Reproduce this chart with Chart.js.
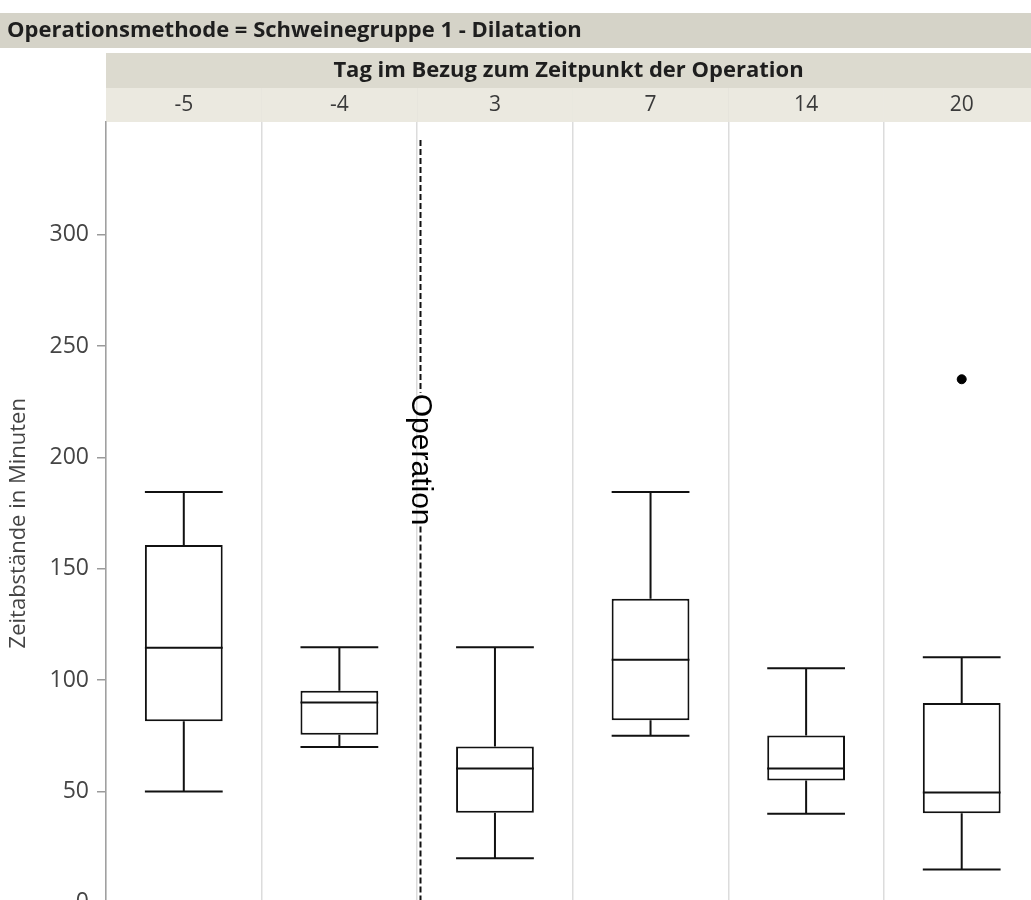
<!DOCTYPE html>
<html>
<head>
<meta charset="utf-8">
<script src="https://cdn.jsdelivr.net/npm/chart.js@4"></script>
<style>
  html, body { margin: 0; padding: 0; background: #fff; overflow: hidden; }
</style>
</head>
<body>
<canvas id="box-chart" width="1045" height="930"></canvas>
<script>
// days relative to the operation
const days = ['-5', '-4', '3', '7', '14', '20'];
// box plot values per day (minutes)
const whiskerLow  = [50, 70, 20, 75, 40, 15];
const quartile1   = [81.5, 75.5, 40.5, 82, 55, 40.3];
const medians     = [114.5, 90, 60.3, 109.2, 60.3, 49.6];
const quartile3   = [160.7, 95.3, 70.2, 136.5, 75.2, 89.8];
const whiskerHigh = [184.5, 114.8, 114.8, 184.5, 105.3, 110.3];
const outliers    = [null, null, null, null, null, 235.1];
const yTicks = [0, 50, 100, 150, 200, 250, 300];

const groupTitle = 'Operationsmethode = Schweinegruppe 1 - Dilatation';
const xTitle = 'Tag im Bezug zum Zeitpunkt der Operation';
const yTitle = 'Zeitabstände in Minuten';
const operationLabel = 'Operation';
// the operation happens between day -4 and day 3 (category index ~1.5)
const operationAt = 1.52;

const uiFont = '"Open Sans", "Noto Sans", sans-serif';

// header bands above the plot: group strip, x title strip, one cell per day
const headerPlugin = {
    id: 'headers',
    beforeDraw(chart) {
        const ctx = chart.ctx;
        const area = chart.chartArea;
        const x = chart.scales.x;
        ctx.save();
        // group strip
        ctx.fillStyle = '#d5d3c8';
        ctx.fillRect(0, 13, chart.width, 35);
        ctx.fillStyle = '#1e1e1e';
        ctx.font = 'bold 22px ' + uiFont;
        ctx.textBaseline = 'middle';
        ctx.textAlign = 'left';
        ctx.fillText(groupTitle, 7, 31);
        // x title strip
        ctx.fillStyle = '#dcdacf';
        ctx.fillRect(area.left, 53, area.right - area.left, 35);
        ctx.fillStyle = '#1e1e1e';
        ctx.textAlign = 'center';
        ctx.fillText(xTitle, (area.left + 1031) / 2, 71);
        // day cells
        ctx.font = '21px ' + uiFont;
        days.forEach((d, i) => {
            const l = x.getPixelForValue(i - 0.5);
            const r = x.getPixelForValue(i + 0.5);
            ctx.fillStyle = '#ebe9e0';
            ctx.fillRect(l, 88, r - l, 34);
            ctx.strokeStyle = '#d2d0c6';
            ctx.lineWidth = 1;
            ctx.beginPath();
            ctx.moveTo(r + 0.5, 88);
            ctx.lineTo(r + 0.5, 122);
            ctx.stroke();
            ctx.fillStyle = '#3a3a3a';
            ctx.fillText(d, (l + r) / 2, 105);
        });
        ctx.restore();
    }
};

// whiskers, caps, medians and the operation marker
const boxPlugin = {
    id: 'boxes',
    afterDatasetsDraw(chart) {
        const ctx = chart.ctx;
        const y = chart.scales.y;
        const x = chart.scales.x;
        const bars = chart.getDatasetMeta(0).data;
        ctx.save();
        ctx.strokeStyle = '#111';
        ctx.lineWidth = 2;
        bars.forEach((bar, i) => {
            const cx = bar.x;
            const half = bar.width / 2;
            const yLow = y.getPixelForValue(whiskerLow[i]);
            const yHigh = y.getPixelForValue(whiskerHigh[i]);
            const yQ1 = y.getPixelForValue(quartile1[i]);
            const yQ3 = y.getPixelForValue(quartile3[i]);
            const yMed = y.getPixelForValue(medians[i]);
            ctx.beginPath();
            ctx.moveTo(cx, yLow); ctx.lineTo(cx, yQ1);
            ctx.moveTo(cx, yQ3); ctx.lineTo(cx, yHigh);
            ctx.moveTo(cx - half, yLow); ctx.lineTo(cx + half, yLow);
            ctx.moveTo(cx - half, yHigh); ctx.lineTo(cx + half, yHigh);
            ctx.moveTo(cx - half, yMed); ctx.lineTo(cx + half, yMed);
            ctx.stroke();
        });

        // operation line with rotated label
        const ox = Math.round(x.getPixelForValue(operationAt)) + 0.5;
        const top = y.getPixelForValue(342.5);
        const bottom = chart.chartArea.bottom;
        const labelMid = y.getPixelForValue(199);
        ctx.font = '30px "Liberation Sans", Arial, sans-serif';
        const tw = ctx.measureText(operationLabel).width;
        ctx.setLineDash([6, 3]);
        ctx.lineWidth = 2;
        ctx.beginPath();
        ctx.moveTo(ox, top); ctx.lineTo(ox, labelMid - tw / 2 - 1);
        ctx.moveTo(ox, labelMid + tw / 2 + 1); ctx.lineTo(ox, bottom);
        ctx.stroke();
        ctx.setLineDash([]);
        ctx.translate(ox, labelMid);
        ctx.rotate(Math.PI / 2);
        ctx.fillStyle = '#000';
        ctx.textAlign = 'center';
        ctx.textBaseline = 'middle';
        ctx.fillText(operationLabel, 0, 0);
        ctx.restore();
    }
};

new Chart(document.querySelector('#box-chart').getContext('2d'), {
    type: 'bar',
    data: {
        labels: days,
        datasets: [
            {
                label: 'Box',
                data: quartile1.map((q, i) => [q, quartile3[i]]),
                backgroundColor: '#fff',
                borderColor: '#111',
                borderWidth: 2,
                borderSkipped: false,
                categoryPercentage: 1,
                barPercentage: 0.5
            },
            {
                type: 'line',
                label: 'Ausreißer',
                data: outliers,
                showLine: false,
                pointRadius: 4.5,
                pointBackgroundColor: '#000',
                pointBorderColor: '#000'
            }
        ]
    },
    options: {
        responsive: false,
        animation: false,
        layout: { padding: { top: 122, right: 3, left: 0, bottom: 0 } },
        plugins: {
            legend: { display: false },
            tooltip: { enabled: false },
            title: { display: false }
        },
        scales: {
            x: {
                type: 'category',
                offset: true,
                afterFit: scale => { scale.height = 0; },
                grid: { offset: true, color: '#dcdcdc', lineWidth: 1.5, drawTicks: false },
                border: { display: false },
                ticks: { display: false }
            },
            y: {
                min: -9.7,
                max: 350.6,
                afterBuildTicks: scale => { scale.ticks = yTicks.map(v => ({ value: v })); },
                afterFit: scale => {
                    scale.width = 106;
                    scale.paddingTop = 0;
                    scale.paddingBottom = 0;
                },
                grid: { drawOnChartArea: false, tickLength: 9, color: '#9a9a9a', lineWidth: 1.5 },
                border: { color: '#a0a0a0', width: 1.5 },
                ticks: { font: { family: uiFont, size: 23 }, color: '#444', padding: 8 },
                title: {
                    display: true,
                    text: yTitle,
                    font: { family: uiFont, size: 22 },
                    color: '#444',
                    padding: { top: 6, bottom: 0 }
                }
            }
        }
    },
    plugins: [headerPlugin, boxPlugin]
});
</script>
</body>
</html>
